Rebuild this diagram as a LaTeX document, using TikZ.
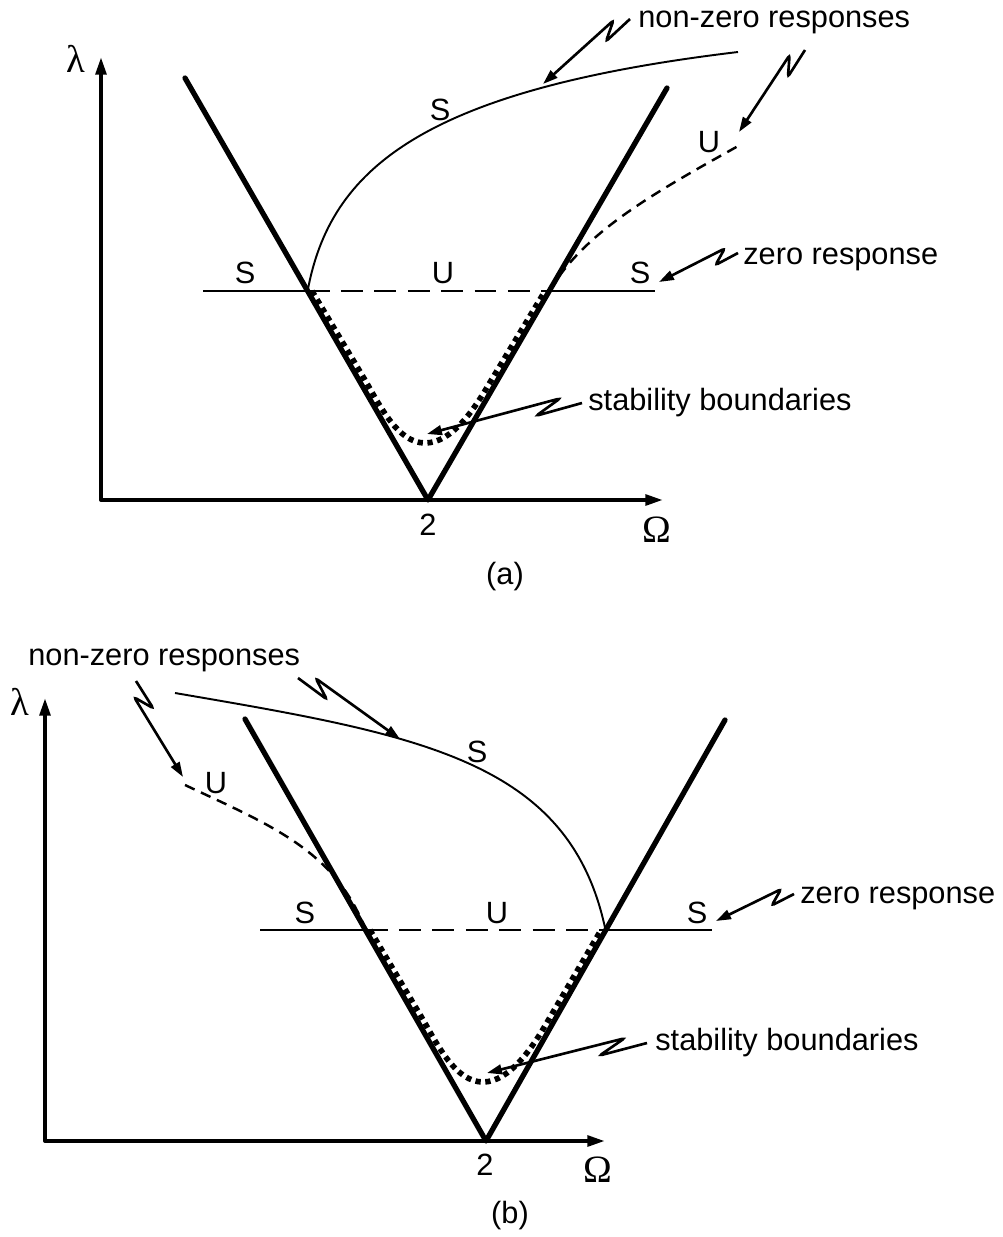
\documentclass[tikz,border=0pt]{standalone}
\usepackage{fontspec}
\setmainfont{Liberation Sans}
\newfontfamily\symfont{Liberation Serif}
\usetikzlibrary{calc,arrows.meta}
\newcommand\zig[4]{\draw[zigline] (#1) -- ($(#1)!0.30!(#2)!2pt!#3:(#2)$) -- ($(#1)!0.13!(#2)!5pt!#4:(#2)$) -- (#2);}
\begin{document}
\begin{tikzpicture}[x=0.02cm,y=-0.02cm,
  lbl/.style={inner sep=0pt, font=\fontsize{17.5}{21}\selectfont},
  sym/.style={inner sep=0pt, font=\symfont\fontsize{22}{24}\selectfont},
  axis/.style={line width=2.2pt, line join=round, {Triangle[length=10pt,width=6pt]}-{Triangle[length=10pt,width=6pt]}},
  vline/.style={line width=3pt, line join=round, line cap=round},
  hline/.style={line width=1.6pt},
  hdash/.style={line width=1.6pt, dash pattern=on 12.5pt off 6.5pt},
  stable/.style={line width=1.1pt},
  unstable/.style={line width=1.4pt, dash pattern=on 6pt off 4pt},
  dotline/.style={line width=3.2pt, dash pattern=on 3pt off 2.6pt},
  zigline/.style={line width=1.5pt, rounded corners=1.5pt, -{Triangle[length=8.5pt,width=5.5pt]}}
]
\useasboundingbox (0,0) rectangle (1002,1237);

%%%%%%%% panel (a)
\coordinate (YaT) at (101,57);
\coordinate (Oa) at (101,500);
\coordinate (XaT) at (663,500);
\coordinate (VaL) at (185,78);
\coordinate (Va) at (428,500);
\coordinate (VaR) at (667,88);
\coordinate (IaL) at (307.6,291);
\coordinate (IaR) at (549.2,291);
\coordinate (HaL) at (203,291);
\coordinate (HaR) at (655,291);
\coordinate (SaEnd) at (738,52);
\coordinate (UaEnd) at (740,145);
\coordinate (MinA) at (425,443);

\draw[axis] (YaT) -- (Oa) -- (XaT);
\draw[vline] (VaL) -- (Va) -- (VaR);
\draw[dotline] (312,291) -- (365,380) .. controls (380,406) and (398,443) .. (MinA)
   .. controls (452,443) and (474.5,409) .. (489.6,383) -- (545,291);
\draw[hline] (HaL) -- (IaL);
\draw[hdash] (IaL) -- (IaR);
\draw[hline] (IaR) -- (HaR);
\draw[stable] (IaL) .. controls (330,170) and (420,90) .. (SaEnd);
\draw[unstable] (IaR) .. controls (585,232) and (650,195) .. (UaEnd);

\node[sym, anchor=base] (lamA) at (76,73) {λ};
\node[sym, anchor=base] (omA) at (657,542) {Ω};
\node[lbl, anchor=base] (twoA) at (428,535) {2};
\node[lbl, anchor=base] (capA) at (505,584) {(a)};
\node[lbl, anchor=base] (sA1) at (245,283) {S};
\node[lbl, anchor=base] (uA1) at (443,283) {U};
\node[lbl, anchor=base] (sA2) at (640,283) {S};
\node[lbl, anchor=base] (sA3) at (440,120) {S};
\node[lbl, anchor=base] (uA2) at (709,153) {U};
\node[lbl, anchor=base west] (nzA) at (638,28) {non-zero responses};
\node[lbl, anchor=base west] (zrA) at (743,264) {zero response};
\node[lbl, anchor=base west] (sbA) at (588,410) {stability boundaries};

\coordinate (za1s) at (630,19);  \coordinate (za1t) at (543,84);
\coordinate (za2s) at (805,50);  \coordinate (za2t) at (739,132);
\coordinate (za3s) at (738,253); \coordinate (za3t) at (659,282);
\coordinate (za4s) at (582,403); \coordinate (za4t) at (427,434);
\zig{za1s}{za1t}{90}{-90}
\zig{za2s}{za2t}{90}{-90}
\zig{za3s}{za3t}{90}{-90}
\zig{za4s}{za4t}{90}{-90}

%%%%%%%% panel (b)
\coordinate (YbT) at (45,698);
\coordinate (Ob) at (45,1141);
\coordinate (XbT) at (605,1141);
\coordinate (VbL) at (245,719);
\coordinate (Vb) at (486,1141);
\coordinate (VbR) at (725,720);
\coordinate (IbL) at (365.7,930);
\coordinate (IbR) at (605.5,930);
\coordinate (HbL) at (260,930);
\coordinate (HbR) at (712,930);
\coordinate (SbStart) at (175,693);
\coordinate (UbStart) at (185,785);
\coordinate (MinB) at (483,1082);

\draw[axis] (YbT) -- (Ob) -- (XbT);
\draw[vline] (VbL) -- (Vb) -- (VbR);
\draw[dotline] (370,930) -- (423.2,1020) .. controls (438,1046) and (456,1082) .. (MinB)
   .. controls (510,1082) and (533.6,1046) .. (548.4,1020) -- (601,930);
\draw[hline] (HbL) -- (IbL);
\draw[hdash] (IbL) -- (IbR);
\draw[hline] (IbR) -- (HbR);
\draw[stable] (SbStart) .. controls (420,735) and (570,760) .. (IbR);
\draw[unstable] (UbStart) .. controls (270,825) and (335,850) .. (IbL);

\node[sym, anchor=base] (lamB) at (20,715) {λ};
\node[sym, anchor=base] (omB) at (598,1182) {Ω};
\node[lbl, anchor=base] (twoB) at (485,1175) {2};
\node[lbl, anchor=base] (capB) at (510,1223) {(b)};
\node[lbl, anchor=base] (sB1) at (305,923) {S};
\node[lbl, anchor=base] (uB1) at (497,923) {U};
\node[lbl, anchor=base] (sB2) at (697,923) {S};
\node[lbl, anchor=base] (sB3) at (477,762) {S};
\node[lbl, anchor=base] (uB2) at (216,793) {U};
\node[lbl, anchor=base west] (nzB) at (28,665) {non-zero responses};
\node[lbl, anchor=base west] (zrB) at (800,903) {zero response};
\node[lbl, anchor=base west] (sbB) at (655,1050) {stability boundaries};

\coordinate (zb1s) at (136,681); \coordinate (zb1t) at (183,777);
\coordinate (zb2s) at (298,678); \coordinate (zb2t) at (400,739);
\coordinate (zb3s) at (794,894); \coordinate (zb3t) at (716,921);
\coordinate (zb4s) at (647,1043); \coordinate (zb4t) at (487,1073);
\zig{zb1s}{zb1t}{90}{-90}
\zig{zb2s}{zb2t}{-90}{90}
\zig{zb3s}{zb3t}{90}{-90}
\zig{zb4s}{zb4t}{90}{-90}
\end{tikzpicture}
\end{document}
